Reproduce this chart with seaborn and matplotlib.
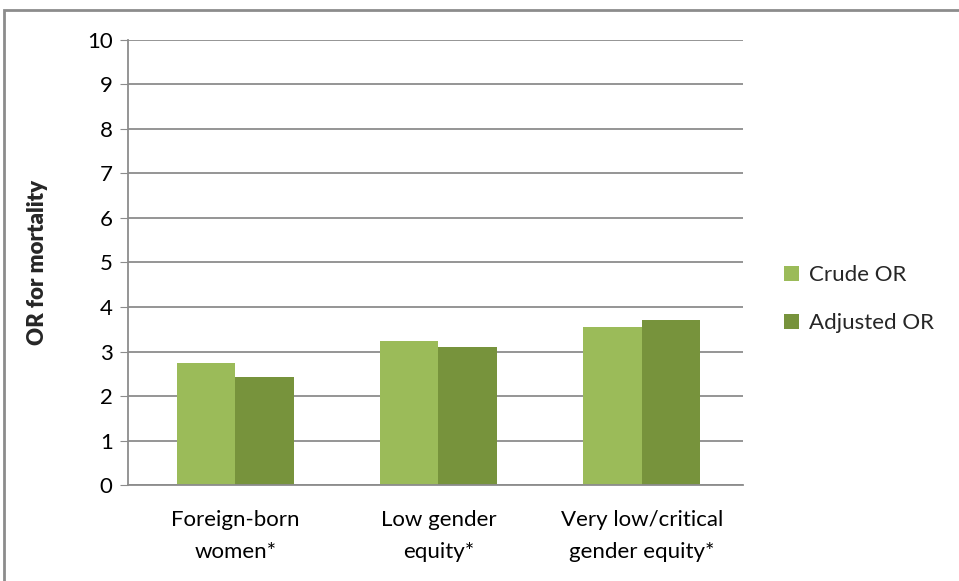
import pandas as pd
import seaborn as sns
import matplotlib.pyplot as plt
from matplotlib.patches import Rectangle

# Data
categories = ['Foreign-born\nwomen*', 'Low gender\nequity*', 'Very low/critical\ngender equity*']
crude_or = [2.74, 3.24, 3.56]
adjusted_or = [2.43, 3.10, 3.71]
series = ['Crude OR', 'Adjusted OR']
colors = ['#9BBB59', '#77933C']

df = pd.DataFrame({
    'category': categories * 2,
    'series': [series[0]] * 3 + [series[1]] * 3,
    'value': crude_or + adjusted_or,
})

sns.set_style('white')
plt.rcParams['font.family'] = ['Lato', 'DejaVu Sans']

fig = plt.figure(figsize=(9.59, 5.81), dpi=100)
ax = fig.add_axes([0.1335, 0.1644, 0.6415, 0.7676])

sns.barplot(data=df, x='category', y='value', hue='series', palette=colors,
            width=0.574, gap=0, saturation=1, ax=ax, legend=True)

ax.set_ylim(0, 10)
ax.set_yticks(range(0, 11))
ax.set_xlim(-0.528, 2.5)
ax.yaxis.grid(True, color='#8C8C8C', linewidth=1.3)
ax.set_axisbelow(True)
for s in ['top', 'right']:
    ax.spines[s].set_visible(False)
ax.spines['left'].set_color('#8C8C8C')
ax.spines['bottom'].set_color('#8C8C8C')
ax.spines['left'].set_linewidth(1.3)
ax.spines['bottom'].set_linewidth(1.3)
ax.tick_params(axis='y', length=6, color='#8C8C8C', labelsize=16, pad=5, left=True,
               labelcolor='black')
ax.tick_params(axis='x', length=0, labelsize=16, pad=18, labelcolor='black')
for lbl in ax.get_xticklabels():
    lbl.set_linespacing(1.75)
for b in ax.patches:
    b.set_edgecolor('none')
ax.set_xlabel('')
ax.set_ylabel('OR for mortality', fontsize=16, fontweight='heavy', labelpad=28)

leg = ax.legend(loc='center left', bbox_to_anchor=(1.03, 0.418), frameon=False,
                fontsize=16, handlelength=0.68, handleheight=0.68,
                labelspacing=1.27, handletextpad=0.45, borderaxespad=0.6)

# chart area border
fig.patches.append(Rectangle((0.004, -0.05), 1.1, 1.033, transform=fig.transFigure,
                             fill=False, edgecolor='#8C8C8C', linewidth=2))

fig.savefig('out.png', dpi=100)
